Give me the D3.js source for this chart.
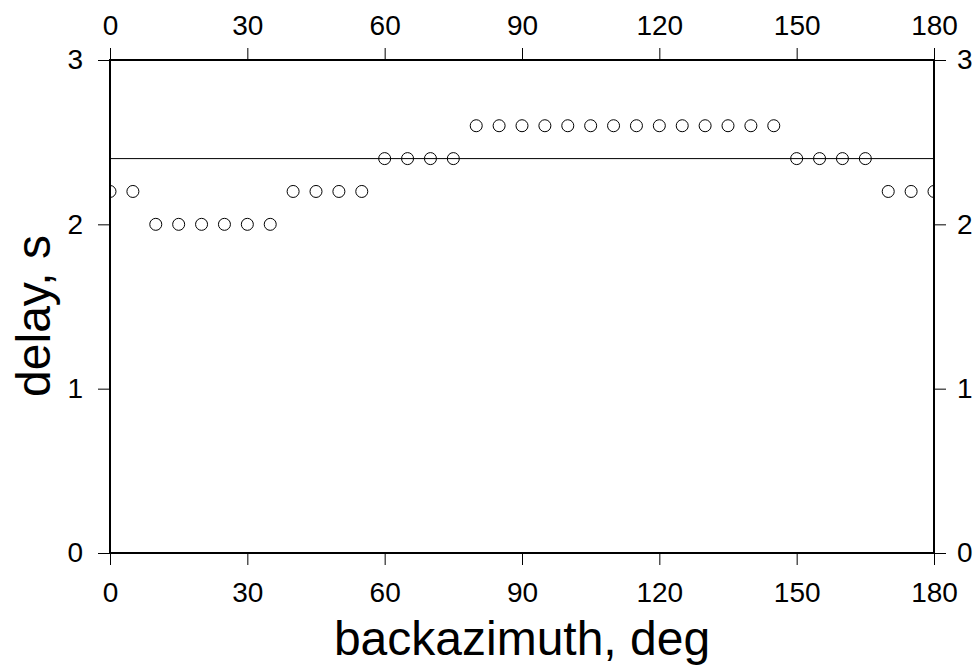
<!DOCTYPE html>
<html>
<head>
  <meta charset="utf-8">
  <title>delay vs backazimuth</title>
  <script src="https://d3js.org/d3.v7.min.js"></script>
  <style>
    body { margin: 0; background: #fff; }
    text { font-family: "Liberation Sans", Arial, sans-serif; fill: #000; }
  </style>
</head>
<body>
<script>
// data
var backazimuth = [0, 5, 10, 15, 20, 25, 30, 35, 40, 45, 50, 55, 60, 65, 70, 75, 80, 85, 90,
                   95, 100, 105, 110, 115, 120, 125, 130, 135, 140, 145, 150, 155, 160, 165, 170, 175, 180];
var delay = [2.2, 2.2, 2.0, 2.0, 2.0, 2.0, 2.0, 2.0, 2.2, 2.2, 2.2, 2.2, 2.4, 2.4, 2.4, 2.4, 2.6, 2.6, 2.6,
             2.6, 2.6, 2.6, 2.6, 2.6, 2.6, 2.6, 2.6, 2.6, 2.6, 2.6, 2.4, 2.4, 2.4, 2.4, 2.2, 2.2, 2.2];
var meanDelay = 2.4;
var xTicks = [0, 30, 60, 90, 120, 150, 180];
var yTicks = [0, 1, 2, 3];

var width = 977, height = 670;
var plotL = 110, plotR = 934, plotT = 60, plotB = 553;

var svg = d3.select("body").append("svg").attr("width", width).attr("height", height);

var x = d3.scaleLinear().domain([0, 180]).range([plotL, plotR]);
var y = d3.scaleLinear().domain([0, 3]).range([plotB, plotT]);
var fmt = d3.format("d");

svg.append("clipPath").attr("id", "plotclip")
  .append("rect").attr("x", plotL).attr("y", plotT)
  .attr("width", plotR - plotL).attr("height", plotB - plotT);

// axes (ticks outside on every side)
function styleAxis(g) {
  g.attr("font-size", 28).attr("font-family", "'Liberation Sans', Arial, sans-serif");
  g.select(".domain").remove();
  g.selectAll(".tick line").attr("stroke", "#000").attr("stroke-width", 1);
}
svg.append("g").attr("transform", "translate(0," + plotB + ")")
  .call(d3.axisBottom(x).tickValues(xTicks).tickFormat(fmt).tickSize(12).tickPadding(17).tickSizeOuter(0))
  .call(styleAxis);
svg.append("g").attr("transform", "translate(0," + plotT + ")")
  .call(d3.axisTop(x).tickValues(xTicks).tickFormat(fmt).tickSize(12).tickPadding(13).tickSizeOuter(0))
  .call(styleAxis);
svg.append("g").attr("transform", "translate(" + plotL + ",0)")
  .call(d3.axisLeft(y).tickValues(yTicks).tickFormat(fmt).tickSize(12).tickPadding(15).tickSizeOuter(0))
  .call(styleAxis);
svg.append("g").attr("transform", "translate(" + plotR + ",0)")
  .call(d3.axisRight(y).tickValues(yTicks).tickFormat(fmt).tickSize(12).tickPadding(11).tickSizeOuter(0))
  .call(styleAxis);

// mean line
svg.append("line")
  .attr("x1", x(0)).attr("x2", x(180))
  .attr("y1", y(meanDelay)).attr("y2", y(meanDelay))
  .attr("stroke", "#000").attr("stroke-width", 1);

// points
svg.append("g").attr("clip-path", "url(#plotclip)")
  .selectAll("circle")
  .data(backazimuth)
  .enter()
  .append("circle")
  .attr("cx", function(d) { return x(d); })
  .attr("cy", function(d, i) { return y(delay[i]); })
  .attr("r", 6)
  .attr("fill", "none")
  .attr("stroke", "#000")
  .attr("stroke-width", 1);

// frame
svg.append("rect")
  .attr("x", plotL).attr("y", plotT)
  .attr("width", plotR - plotL).attr("height", plotB - plotT)
  .attr("fill", "none").attr("stroke", "#000").attr("stroke-width", 2);

// axis titles
svg.append("text")
  .attr("x", (plotL + plotR) / 2).attr("y", 655)
  .attr("text-anchor", "middle").attr("font-size", 48)
  .text("backazimuth, deg");
svg.append("text")
  .attr("transform", "translate(50,316) rotate(-90)")
  .attr("text-anchor", "middle").attr("font-size", 48)
  .text("delay, s");
</script>
</body>
</html>
